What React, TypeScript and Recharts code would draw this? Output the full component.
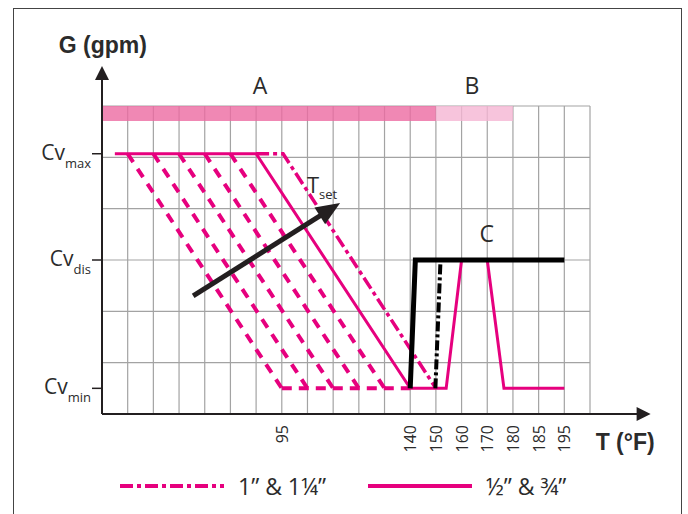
import {
  ComposedChart,
  Line,
  XAxis,
  YAxis,
  CartesianGrid,
  ReferenceArea,
  ReferenceLine,
  ReferenceDot,
  Legend,
} from 'recharts';

const PINK = '#e6007e';
const INK = '#231f20';
const TEXT = '#2b2b2b';
const LIGHT_FONT = '"Open Sans", "Noto Sans", sans-serif';
const BOLD_FONT = '"Liberation Sans", Arial, sans-serif';

// rejilla y ejes
const xGrid = [0, 1, 2, 3, 4, 5, 6, 7, 8, 9, 10, 11, 12, 13, 14, 15, 16, 17, 18, 19];
const yGrid = [0, 1, 2, 3, 4, 5, 6];
const xTicks = [7, 12, 13, 14, 15, 16, 17, 18];
const xTickLabels = ['95', '140', '150', '160', '170', '180', '185', '195'];
const yTicks = [0.5, 3, 5.07];
const yTickSubs = ['min', 'dis', 'max'];

// bandas A / B
const bandStart = [0, 13];
const bandEnd = [13, 16];
const bandFill = ['#ec6aa1', '#f5b5d3'];

// curvas
const curvaMedia = [
  { x: 0.5, y: 5.07 }, { x: 6, y: 5.07 }, { x: 12, y: 0.5 }, { x: 13.4, y: 0.5 },
  { x: 14, y: 3 }, { x: 15, y: 3 }, { x: 15.65, y: 0.5 }, { x: 18, y: 0.5 },
];
const curvaPulgada = [{ x: 6, y: 5.07 }, { x: 7.05, y: 5.07 }, { x: 13, y: 0.5 }];
const rampas = [
  [{ x: 1, y: 5.07 }, { x: 7, y: 0.5 }],
  [{ x: 2, y: 5.07 }, { x: 8, y: 0.5 }],
  [{ x: 3, y: 5.07 }, { x: 9, y: 0.5 }],
  [{ x: 4, y: 5.07 }, { x: 10, y: 0.5 }],
  [{ x: 5, y: 5.07 }, { x: 11, y: 0.5 }],
];
const baseRampas = [{ x: 7, y: 0.5 }, { x: 12, y: 0.5 }];
const tSolida = [{ x: 12, y: 0.5 }, { x: 12.2, y: 3 }, { x: 18, y: 3 }];
const tPunteada = [{ x: 12.98, y: 0.5 }, { x: 13.18, y: 3 }];
const flechaTset = [{ x: 3.55, y: 2.3 }, { x: 9.27, y: 4.11 }];

// ejes con flecha
const ejeX = [{ x: 0, y: 0 }, { x: 21.36, y: 0 }];
const ejeY = [{ x: 0, y: 0 }, { x: 0, y: 6.78 }];

function Flecha(props: any, head: number, half: number, width: number) {
  const { x1, y1, x2, y2 } = props;
  const dx = x2 - x1;
  const dy = y2 - y1;
  const len = Math.hypot(dx, dy) || 1;
  const ux = dx / len;
  const uy = dy / len;
  const bx = x2 - ux * head;
  const by = y2 - uy * head;
  const pts = `${x2},${y2} ${bx - uy * half},${by + ux * half} ${bx + uy * half},${by - ux * half}`;
  return (
    <g>
      <line x1={x1} y1={y1} x2={bx + ux * 2} y2={by + uy * 2} stroke={INK} strokeWidth={width} />
      <polygon points={pts} fill={INK} />
    </g>
  );
}

function XTick({ x, y, payload }: any) {
  const label = xTickLabels[xTicks.indexOf(payload.value)];
  const ty = y + 3;
  return (
    <text
      x={x}
      y={ty}
      transform={`rotate(-90 ${x} ${ty})`}
      textAnchor="end"
      dominantBaseline="central"
      fontSize={16}
      fill={TEXT}
      fontFamily={LIGHT_FONT}
    >
      {label}
    </text>
  );
}

function YTick({ x, y, payload }: any) {
  const sub = yTickSubs[yTicks.indexOf(payload.value)];
  return (
    <text x={x} y={y + 6} textAnchor="end" fill={TEXT} fontFamily={LIGHT_FONT}>
      <tspan fontSize={21}>Cv</tspan>
      <tspan fontSize={13} dy={8}>{sub}</tspan>
    </text>
  );
}

function Leyenda({ payload }: any) {
  const items = (payload ?? []).filter((e: any) => e.type !== 'none');
  return (
    <div style={{ display: 'flex', paddingLeft: 120 }}>
      {items.map((e: any) => (
        <div key={e.value} style={{ display: 'flex', alignItems: 'center', width: 248 }}>
          <svg width={104} height={8}>
            <line
              x1={0}
              y1={4}
              x2={104}
              y2={4}
              stroke={e.color}
              strokeWidth={4}
              strokeDasharray={e.payload?.strokeDasharray}
            />
          </svg>
          <span style={{ marginLeft: 14, fontSize: 23, fontFamily: LIGHT_FONT, color: TEXT }}>
            {e.value}
          </span>
        </div>
      ))}
    </div>
  );
}

const texto = (value: string, size: number, anchor: string, font = LIGHT_FONT, weight = 400) =>
  (p: any) => (
    <text x={p.cx} y={p.cy} textAnchor={anchor} fontSize={size} fontFamily={font} fontWeight={weight} fill={TEXT}>
      {value}
    </text>
  );

export default function App() {
  return (
    <div style={{ position: 'absolute', left: 0, top: 0, width: 688, height: 514, background: '#fff' }}>
      <div
        style={{
          position: 'absolute',
          left: 13,
          top: 8,
          width: 669,
          height: 506,
          boxSizing: 'border-box',
          borderTop: '1.5px solid #444',
          borderLeft: '1.5px solid #444',
          borderRight: '1.5px solid #444',
        }}
      />
      <div style={{ position: 'absolute', left: 0, top: 0 }}>
        <ComposedChart width={688} height={514} margin={{ top: 106, right: 98, bottom: 70, left: 42 }}>
          <CartesianGrid
            stroke="#a3a3a3"
            strokeWidth={1.2}
            verticalValues={xGrid}
            horizontalValues={yGrid}
          />
          <XAxis
            type="number"
            dataKey="x"
            domain={[0, 19]}
            ticks={xTicks}
            interval={0}
            axisLine={false}
            tickLine={false}
            tickSize={6}
            height={30}
            tick={(p: any) => <XTick {...p} />}
          />
          <YAxis
            type="number"
            dataKey="y"
            domain={[0, 6]}
            ticks={yTicks}
            interval={0}
            axisLine={false}
            tickLine={{ stroke: INK, strokeWidth: 1.5 }}
            tickSize={10}
            tickMargin={1}
            width={60}
            tick={(p: any) => <YTick {...p} />}
          />
          {bandStart.map((s, i) => (
            <ReferenceArea
              key={`band${i}`}
              x1={s}
              x2={bandEnd[i]}
              y1={5.71}
              y2={6}
              fill={bandFill[i]}
              fillOpacity={0.8}
              stroke="none"
            />
          ))}
          {rampas.map((r, i) => (
            <Line
              key={`rampa${i}`}
              data={r}
              dataKey="y"
              stroke={PINK}
              strokeWidth={4}
              strokeDasharray="10 8"
              dot={false}
              activeDot={false}
              legendType="none"
              isAnimationActive={false}
            />
          ))}
          <Line
            data={baseRampas}
            dataKey="y"
            stroke={PINK}
            strokeWidth={4}
            strokeDasharray="10 7"
            dot={false}
            activeDot={false}
            legendType="none"
            isAnimationActive={false}
          />
          <Line
            data={curvaPulgada}
            dataKey="y"
            name={'1\u201D & 1\u00BC\u201D'}
            stroke={PINK}
            strokeWidth={3.5}
            strokeDasharray="13 4 4 4"
            dot={false}
            activeDot={false}
            legendType="line"
            isAnimationActive={false}
          />
          <Line
            data={curvaMedia}
            dataKey="y"
            name={'\u00BD\u201D & \u00BE\u201D'}
            stroke={PINK}
            strokeWidth={3}
            dot={false}
            activeDot={false}
            legendType="line"
            isAnimationActive={false}
          />
          <Line
            data={tSolida}
            dataKey="y"
            stroke="#000"
            strokeWidth={5}
            dot={false}
            activeDot={false}
            legendType="none"
            isAnimationActive={false}
          />
          <Line
            data={tPunteada}
            dataKey="y"
            stroke="#000"
            strokeWidth={4}
            strokeDasharray="10 3 3 3"
            dot={false}
            activeDot={false}
            legendType="none"
            isAnimationActive={false}
          />
          <ReferenceLine segment={ejeX} ifOverflow="visible" shape={(p: any) => Flecha(p, 14, 7, 2)} />
          <ReferenceLine segment={ejeY} ifOverflow="visible" shape={(p: any) => Flecha(p, 14, 7, 2)} />
          <ReferenceLine segment={flechaTset} ifOverflow="visible" shape={(p: any) => Flecha(p, 24, 10, 5)} />
          <ReferenceDot x={6.15} y={6.23} r={0} ifOverflow="visible" shape={texto('A', 23, 'middle')} />
          <ReferenceDot x={14.4} y={6.23} r={0} ifOverflow="visible" shape={texto('B', 23, 'middle')} />
          <ReferenceDot x={14.98} y={3.36} r={0} ifOverflow="visible" shape={texto('C', 23, 'middle')} />
          <ReferenceDot
            x={7.98}
            y={4.31}
            r={0}
            ifOverflow="visible"
            shape={(p: any) => (
              <text x={p.cx} y={p.cy} fill={TEXT} fontFamily={LIGHT_FONT}>
                <tspan fontSize={22}>T</tspan>
                <tspan fontSize={13} dy={6}>set</tspan>
              </text>
            )}
          />
          <ReferenceDot x={0.03} y={7.03} r={0} ifOverflow="visible" shape={texto('G (gpm)', 23, 'middle', BOLD_FONT, 700)} />
          <ReferenceDot x={19.22} y={-0.7} r={0} ifOverflow="visible" shape={texto('T (\u00B0F)', 23, 'start', BOLD_FONT, 700)} />
          <Legend
            layout="horizontal"
            verticalAlign="middle"
            align="center"
            wrapperStyle={{ top: 470, left: 0, width: 688 }}
            content={<Leyenda />}
          />
        </ComposedChart>
      </div>
    </div>
  );
}
